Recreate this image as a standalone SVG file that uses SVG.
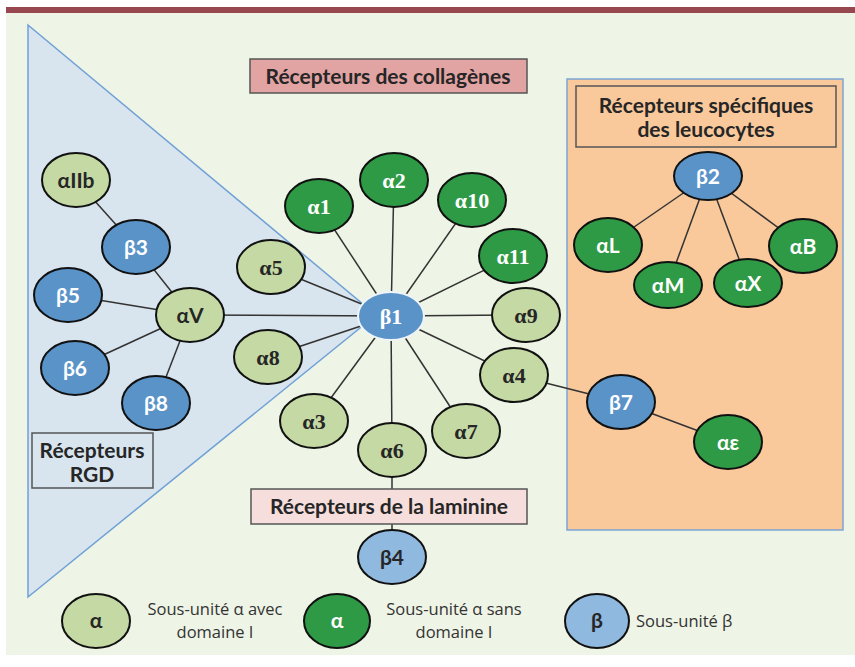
<svg xmlns="http://www.w3.org/2000/svg" width="855" height="667" viewBox="0 0 855 667">
<defs>
<style>
.lg{fill:#c5d9a4;stroke:#111;stroke-width:2}
.dg{fill:#2f9a45;stroke:#111;stroke-width:2}
.bl{fill:#5a93c8;stroke:#111;stroke-width:2}
.lb{fill:#90b9e0;stroke:#111;stroke-width:2}
.ser{font-family:"Liberation Serif","DejaVu Serif",serif;font-weight:bold;font-size:22px;text-anchor:middle}
.san{font-family:"Lato","Open Sans",sans-serif;font-weight:bold;font-size:21px;text-anchor:middle}
.dk{fill:#262626}
.wh{fill:#ffffff}
.ttl{font-family:"Lato","Open Sans",sans-serif;font-weight:bold;font-size:21px;fill:#262626;text-anchor:middle}
.leg{font-family:"Open Sans","Lato",sans-serif;font-size:16.5px;fill:#333}
.box{stroke:#555;stroke-width:1.5}
#connectors line{stroke:#333;stroke-width:1.5}
</style>
</defs>
<rect width="855" height="667" fill="#ffffff"/>
<rect x="6" y="7" width="849" height="648" fill="#eef4e6"/>
<rect x="6" y="7" width="849" height="6" fill="#96474f"/>
<polygon points="28,25 376,315 28,597" fill="#d8e4ee" stroke="#6fa0d6" stroke-width="1.5"/>
<rect x="567" y="79" width="276" height="451" fill="#f9c89b" stroke="#7ba6d6" stroke-width="1.5"/>

<g id="connectors">
<line x1="76" y1="180" x2="136" y2="247"/>
<line x1="136" y1="247" x2="190" y2="315"/>
<line x1="68" y1="295" x2="190" y2="315"/>
<line x1="75" y1="368" x2="190" y2="315"/>
<line x1="156" y1="403" x2="190" y2="315"/>
<line x1="190" y1="315" x2="391" y2="316"/>
<line x1="271" y1="267" x2="391" y2="316"/>
<line x1="268" y1="357" x2="391" y2="316"/>
<line x1="319" y1="206" x2="391" y2="316"/>
<line x1="394" y1="180" x2="391" y2="316"/>
<line x1="472" y1="200" x2="391" y2="316"/>
<line x1="513" y1="256" x2="391" y2="316"/>
<line x1="526" y1="315" x2="391" y2="316"/>
<line x1="514" y1="375" x2="391" y2="316"/>
<line x1="466" y1="431" x2="391" y2="316"/>
<line x1="392" y1="450" x2="391" y2="316"/>
<line x1="314" y1="421" x2="391" y2="316"/>
<line x1="392" y1="450" x2="392" y2="557"/>
<line x1="514" y1="375" x2="621" y2="402"/>
<line x1="621" y1="402" x2="728" y2="442"/>
<line x1="708" y1="176" x2="608" y2="245"/>
<line x1="708" y1="176" x2="668" y2="285"/>
<line x1="708" y1="176" x2="748" y2="283"/>
<line x1="708" y1="176" x2="803" y2="246"/>
</g>

<g id="aIIb"><ellipse class="lg" cx="76" cy="180" rx="34" ry="27"/><text class="san dk" x="76" y="188">αIIb</text></g>
<g id="b3"><ellipse class="bl" cx="136" cy="247" rx="34" ry="27"/><text class="san wh" x="136" y="255">β3</text></g>
<g id="b5"><ellipse class="bl" cx="68" cy="295" rx="34" ry="27"/><text class="san wh" x="68" y="303">β5</text></g>
<g id="aV"><ellipse class="lg" cx="190" cy="315" rx="34" ry="27"/><text class="san dk" x="190" y="323">αV</text></g>
<g id="b6"><ellipse class="bl" cx="75" cy="368" rx="34" ry="27"/><text class="san wh" x="75" y="376">β6</text></g>
<g id="b8"><ellipse class="bl" cx="156" cy="403" rx="34" ry="27"/><text class="san wh" x="156" y="411">β8</text></g>

<g id="a1"><ellipse class="dg" cx="319" cy="206" rx="34" ry="27"/><text class="ser wh" x="319" y="214">α1</text></g>
<g id="a2"><ellipse class="dg" cx="394" cy="180" rx="34" ry="27"/><text class="ser wh" x="394" y="188">α2</text></g>
<g id="a10"><ellipse class="dg" cx="472" cy="200" rx="34" ry="27"/><text class="ser wh" x="472" y="208">α10</text></g>
<g id="a11"><ellipse class="dg" cx="513" cy="256" rx="34" ry="27"/><text class="ser wh" x="513" y="264">α11</text></g>
<g id="a5"><ellipse class="lg" cx="271" cy="267" rx="34" ry="27"/><text class="ser dk" x="271" y="275">α5</text></g>
<g id="a9"><ellipse class="lg" cx="526" cy="315" rx="34" ry="27"/><text class="ser dk" x="526" y="323">α9</text></g>
<g id="a8"><ellipse class="lg" cx="268" cy="357" rx="34" ry="27"/><text class="ser dk" x="268" y="365">α8</text></g>
<g id="a4"><ellipse class="lg" cx="514" cy="375" rx="34" ry="27"/><text class="ser dk" x="514" y="383">α4</text></g>
<g id="a3"><ellipse class="lg" cx="314" cy="421" rx="34" ry="27"/><text class="ser dk" x="314" y="429">α3</text></g>
<g id="a7"><ellipse class="lg" cx="466" cy="431" rx="34" ry="27"/><text class="ser dk" x="466" y="439">α7</text></g>
<g id="a6"><ellipse class="lg" cx="392" cy="450" rx="34" ry="27"/><text class="ser dk" x="392" y="458">α6</text></g>
<g id="b1"><ellipse cx="391" cy="316" rx="33" ry="24" fill="#5a93c8" stroke="#eef4f8" stroke-width="2"/><text class="ser wh" x="391" y="324">β1</text></g>

<g id="b4"><ellipse class="lb" cx="392" cy="557" rx="34" ry="27"/><text class="san dk" x="392" y="565">β4</text></g>

<g id="b2"><ellipse class="bl" cx="708" cy="176" rx="34" ry="24"/><text class="san wh" x="708" y="184">β2</text></g>
<g id="aL"><ellipse class="dg" cx="608" cy="245" rx="34" ry="27"/><text class="san wh" x="608" y="253">αL</text></g>
<g id="aM"><ellipse class="dg" cx="668" cy="285" rx="34" ry="23"/><text class="san wh" x="668" y="293">αM</text></g>
<g id="aX"><ellipse class="dg" cx="748" cy="283" rx="34" ry="24"/><text class="san wh" x="748" y="291">αX</text></g>
<g id="aB"><ellipse class="dg" cx="803" cy="246" rx="34" ry="27"/><text class="san wh" x="803" y="254">αB</text></g>
<g id="b7"><ellipse class="bl" cx="621" cy="402" rx="34" ry="27"/><text class="san wh" x="621" y="410">β7</text></g>
<g id="aE"><ellipse class="dg" cx="728" cy="442" rx="34" ry="27"/><text class="san wh" x="728" y="450">αε</text></g>

<g id="t-collagenes"><rect class="box" x="250" y="59" width="277" height="34" fill="#e2a3a3"/><text class="ttl" x="388" y="84">Récepteurs des collagènes</text></g>
<g id="t-leucocytes"><rect class="box" x="576" y="86" width="260" height="61" fill="#f9c89b"/><text class="ttl" x="706" y="113">Récepteurs spécifiques</text><text class="ttl" x="706" y="137">des leucocytes</text></g>
<g id="t-laminine"><rect class="box" x="251" y="489" width="276" height="35" fill="#f5dedc"/><text class="ttl" x="389" y="514">Récepteurs de la laminine</text></g>
<g id="t-rgd"><rect class="box" x="32" y="433" width="121" height="55" fill="#d8e4ee"/><text class="ttl" x="92" y="458">Récepteurs</text><text class="ttl" x="92" y="482">RGD</text></g>

<g id="legend">
<ellipse class="lg" cx="96" cy="621" rx="34" ry="27"/><text class="san dk" x="96" y="628">α</text>
<text class="leg" x="215" y="615" text-anchor="middle">Sous-unité α avec</text>
<text class="leg" x="215" y="638" text-anchor="middle">domaine I</text>
<ellipse class="dg" cx="337" cy="621" rx="33" ry="27"/><text class="san wh" x="337" y="628">α</text>
<text class="leg" x="454" y="615" text-anchor="middle">Sous-unité α sans</text>
<text class="leg" x="454" y="638" text-anchor="middle">domaine I</text>
<ellipse class="lb" cx="597" cy="621" rx="32" ry="27"/><text class="san dk" x="597" y="628">β</text>
<text class="leg" x="636" y="627">Sous-unité β</text>
</g>
</svg>
